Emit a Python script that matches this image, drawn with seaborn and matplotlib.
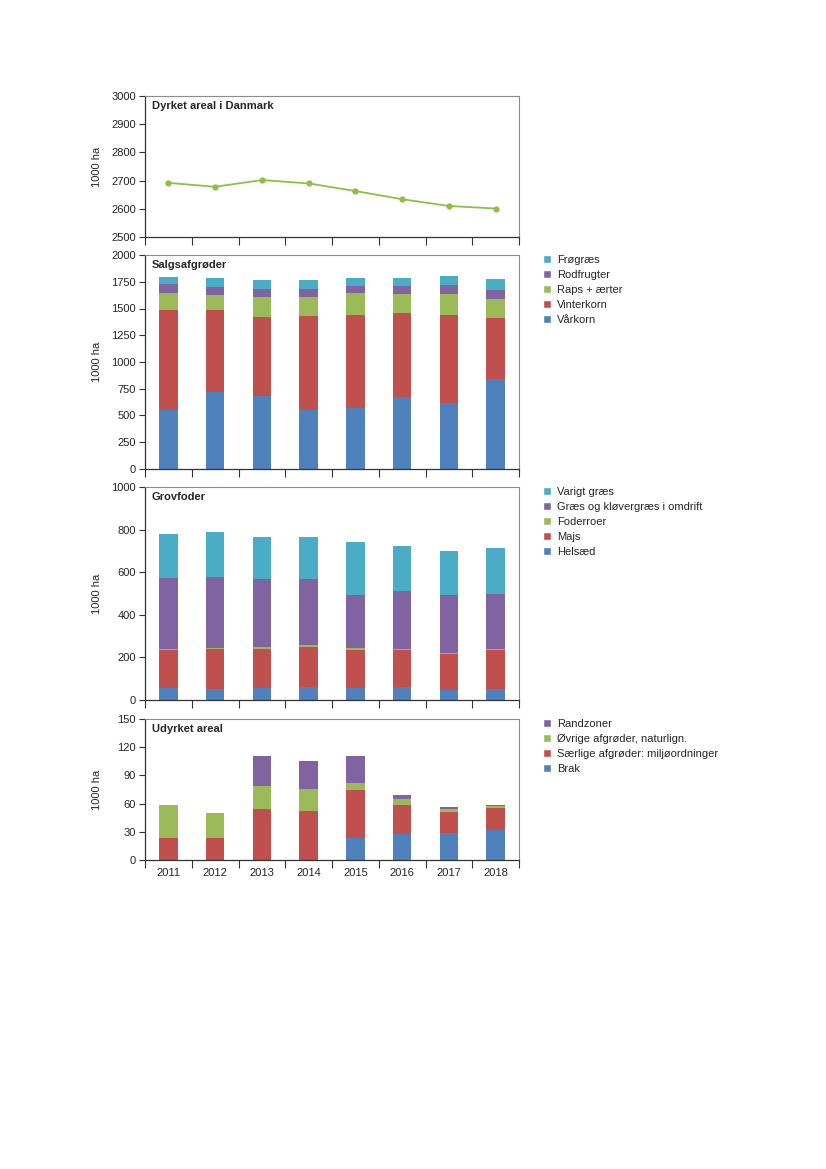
import numpy as np
import pandas as pd
import matplotlib
matplotlib.use("Agg")
import matplotlib.pyplot as plt
import seaborn as sns
from matplotlib.patches import Patch

# data (1000 ha)
years = ["2011", "2012", "2013", "2014", "2015", "2016", "2017", "2018"]

dyrket_areal = [2692, 2678, 2702, 2690, 2663, 2634, 2610, 2601]

# Salgsafgrøder (bottom -> top)
vaarkorn = [548, 720, 679, 548, 570, 673, 620, 838]
vinterkorn = [941, 769, 742, 882, 869, 785, 816, 573]
raps_aerter = [156, 137, 183, 174, 203, 178, 200, 178]
rodfrugter = [84, 78, 81, 81, 68, 77, 84, 81]
froegraes = [65, 78, 81, 78, 72, 75, 81, 106]

# Grovfoder (bottom -> top)
helsaed = [56, 52, 58, 61, 56, 59, 47, 52]
majs = [177, 189, 183, 189, 180, 177, 167, 183]
foderroer = [5, 5, 8, 8, 7, 5, 5, 4]
graes_omdrift = [335, 331, 319, 310, 250, 271, 274, 260]
varigt_graes = [208, 213, 197, 196, 249, 213, 205, 215]

# Udyrket areal (bottom -> top)
brak = [0, 0, 0, 0, 23, 28, 29, 32]
saerlige = [23, 23, 54, 52, 51, 30.5, 22, 23]
oevrige = [36, 27, 25, 24, 7.6, 6.4, 3.3, 2.1]
randzoner = [0, 0, 32, 29.5, 29.4, 3.9, 2.4, 1.1]

BLUE = "#4f81bd"
RED = "#c0504d"
GREEN = "#9bbb59"
PURPLE = "#8064a2"
CYAN = "#4bacc6"
LINE_GREEN = "#8cc043"

sns.set_style("white")
plt.rcParams["font.family"] = ["Liberation Sans", "DejaVu Sans"]
plt.rcParams["font.size"] = 8

W, H = 826, 1169
fig = plt.figure(figsize=(W / 100, H / 100), dpi=100)

left = 145 / W
width = (519 - 145) / W
# (top px, bottom px) of each panel
boxes = [(96, 237), (255, 469), (487, 700), (719, 860)]
axes = [fig.add_axes([left, 1 - b / H, width, (b - t) / H]) for t, b in boxes]


def stacked(ax, series, labels, colors):
    # draw cumulative totals from the top layer down so every layer shows
    tops = np.cumsum(np.array(series, dtype=float), axis=0)
    for i in range(len(series) - 1, -1, -1):
        df = pd.DataFrame({"year": years, "value": tops[i]})
        sns.barplot(data=df, x="year", y="value", color=colors[i], width=0.4,
                    saturation=1, errorbar=None, linewidth=0, ax=ax)
    handles = [Patch(facecolor=colors[i], label=labels[i])
               for i in range(len(series) - 1, -1, -1)]
    ax.legend(handles=handles, loc="upper left", bbox_to_anchor=(1.064, 1.0),
              frameon=False, borderaxespad=0, borderpad=0, fontsize=8,
              handlelength=0.75, handleheight=0.75, handletextpad=0.5,
              labelspacing=0.45)


# panel 1: line
line_df = pd.DataFrame({"year": years, "areal": dyrket_areal})
line_df["pos"] = np.arange(len(years))
sns.lineplot(data=line_df, x="pos", y="areal", color=LINE_GREEN, lw=1.3,
             marker="o", markersize=4.5, markeredgewidth=0, ax=axes[0])

stacked(axes[1], [vaarkorn, vinterkorn, raps_aerter, rodfrugter, froegraes],
        ["Vårkorn", "Vinterkorn", "Raps + ærter", "Rodfrugter", "Frøgræs"],
        [BLUE, RED, GREEN, PURPLE, CYAN])
stacked(axes[2], [helsaed, majs, foderroer, graes_omdrift, varigt_graes],
        ["Helsæd", "Majs", "Foderroer", "Græs og kløvergræs i omdrift", "Varigt græs"],
        [BLUE, RED, GREEN, PURPLE, CYAN])
stacked(axes[3], [brak, saerlige, oevrige, randzoner],
        ["Brak", "Særlige afgrøder: miljøordninger", "Øvrige afgrøder, naturlign.", "Randzoner"],
        [BLUE, RED, GREEN, PURPLE])

titles = ["Dyrket areal i Danmark", "Salgsafgrøder", "Grovfoder", "Udyrket areal"]
ylims = [(2500, 3000), (0, 2000), (0, 1000), (0, 150)]
ysteps = [100, 250, 200, 30]

for k, ax in enumerate(axes):
    ax.set_xlim(-0.5, len(years) - 0.5)
    ax.set_ylim(*ylims[k])
    ax.set_yticks(np.arange(ylims[k][0], ylims[k][1] + 1, ysteps[k]))
    ax.set_xticks(np.arange(-0.5, len(years), 1))
    ax.set_xticklabels([])
    ax.set_xticks(np.arange(len(years)), minor=True)
    if k == len(axes) - 1:
        ax.set_xticklabels(years, minor=True)
    else:
        ax.set_xticklabels([], minor=True)
    ax.tick_params(axis="x", which="major", direction="out", length=6,
                   width=0.8, color="#333333", bottom=True)
    ax.tick_params(axis="x", which="minor", length=0, pad=6, labelsize=8)
    ax.tick_params(axis="y", direction="out", length=4.5, width=0.8,
                   color="#333333", left=True, pad=2, labelsize=8)
    ax.set_xlabel("")
    ax.set_ylabel("1000 ha", fontsize=8)
    ax.yaxis.set_label_coords(-43 / 374, 0.5)
    for side in ["top", "right"]:
        ax.spines[side].set_color("#8c8c8c")
        ax.spines[side].set_linewidth(0.8)
    for side in ["left", "bottom"]:
        ax.spines[side].set_color("#333333")
        ax.spines[side].set_linewidth(0.9)
    # panel title a fixed distance below the top edge
    ax.annotate(titles[k], xy=(0, 1), xycoords="axes fraction",
                xytext=(5, -7.3), textcoords="offset points", ha="left",
                va="center", fontsize=8, fontweight="bold")

fig.savefig("out.png", dpi=100)
